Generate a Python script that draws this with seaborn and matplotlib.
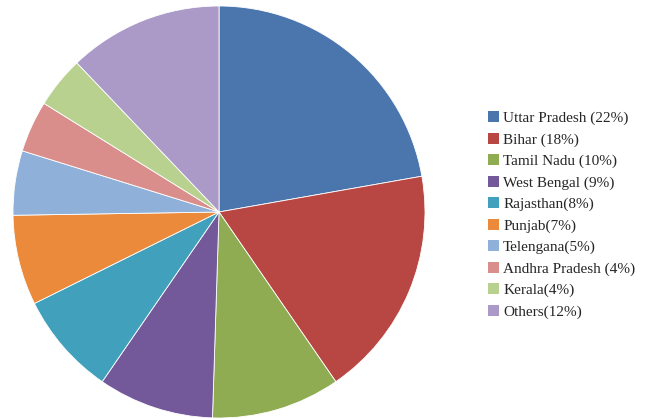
import matplotlib

matplotlib.use("Agg")
import matplotlib.pyplot as plt
import seaborn as sns
from matplotlib.patches import Patch

states = ["Uttar Pradesh", "Bihar", "Tamil Nadu", "West Bengal", "Rajasthan",
          "Punjab", "Telengana", "Andhra Pradesh", "Kerala", "Others"]
shares = [22, 18, 10, 9, 8, 7, 5, 4, 4, 12]
labels = ["Uttar Pradesh (22%)", "Bihar (18%)", "Tamil Nadu (10%)", "West Bengal (9%)",
          "Rajasthan(8%)", "Punjab(7%)", "Telengana(5%)", "Andhra Pradesh (4%)",
          "Kerala(4%)", "Others(12%)"]
colors = ["#4a76ad", "#b84744", "#8fac52", "#74599a", "#41a0bb",
          "#ec8a3c", "#8fb0d8", "#d98e8c", "#b9d18f", "#ab9ac7"]

sns.set_theme(style="white")
plt.rcParams["font.family"] = ["Liberation Serif", "DejaVu Serif"]
palette = sns.color_palette(colors)

fig = plt.figure(figsize=(6.47, 4.19), dpi=100)
ax = fig.add_axes([0.0201, 0.0024, 0.6368, 0.9833])
ax.pie(shares, colors=palette, startangle=90, counterclock=False,
       wedgeprops=dict(edgecolor="white", linewidth=0.6))
ax.set_xlim(-1, 1)
ax.set_ylim(-1, 1)
ax.set_aspect("equal")
ax.axis("off")

handles = [Patch(facecolor=c, edgecolor="none") for c in palette]
fig.legend(handles, labels, loc="upper left", bbox_to_anchor=(0.754, 0.734),
           frameon=False, fontsize=11, handlelength=0.7, handleheight=0.7,
           handletextpad=0.3, labelspacing=0.5, borderaxespad=0, borderpad=0)

fig.savefig("out.png", dpi=100)
plt.close(fig)
